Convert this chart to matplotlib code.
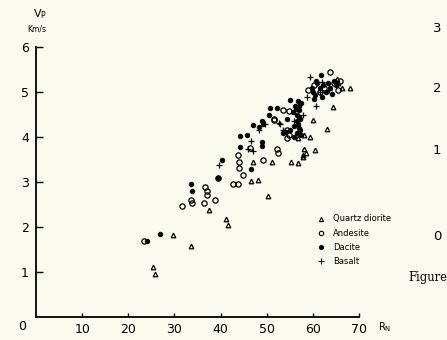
import matplotlib.pyplot as plt

# Schmidt hammer rebound (Rn) against P-wave velocity (km/s)
quartz_rn = [25.3, 25.9, 29.6, 33.5, 37.4, 41.1, 41.7, 50.3, 46.6, 48.2, 47.1, 51.1,
             55.3, 56.7, 57.8, 58.5, 58.1, 60.5, 56.7, 58.1, 59.5, 60.0, 63.1, 64.4,
             68.0, 65.5, 66.4, 57.9, 65.2]
quartz_vp = [1.12, 0.96, 1.83, 1.57, 2.38, 2.17, 2.04, 2.70, 3.02, 3.04, 3.45, 3.44,
             3.45, 3.43, 3.55, 3.64, 3.73, 3.71, 3.97, 4.04, 4.01, 4.38, 4.17, 4.67,
             5.08, 5.20, 5.10, 3.60, 5.30]

andesite_rn = [23.5, 31.7, 33.8, 33.7, 36.5, 38.7, 36.7, 37.0, 37.1, 39.5, 42.8, 43.7,
               44.8, 43.9, 43.9, 43.7, 49.1, 52.3, 52.5, 46.4, 51.6, 54.5, 54.8, 54.5,
               53.6, 54.9, 51.5, 58.9, 63.7, 62.5, 64.5, 65.5, 61.5, 60.2, 66.0]
andesite_vp = [1.70, 2.47, 2.53, 2.60, 2.53, 2.60, 2.88, 2.81, 2.71, 3.08, 2.95, 2.95,
               3.16, 3.32, 3.45, 3.60, 3.50, 3.73, 3.64, 3.75, 4.39, 3.97, 4.04, 4.16,
               4.60, 4.58, 4.38, 5.04, 5.45, 5.10, 5.20, 5.05, 5.00, 5.15, 5.25]

dacite_rn = [24.0, 26.9, 33.5, 33.9, 39.5, 40.3, 46.6, 44.3, 48.9, 48.9, 44.3, 45.7,
             47.1, 48.4, 49.3, 49.0, 50.6, 50.8, 52.2, 55.1, 54.4, 53.5, 54.2, 55.0,
             56.0, 56.5, 57.0, 56.8, 57.2, 56.5, 57.0, 56.2, 57.5, 56.0, 57.5, 56.8,
             55.7, 57.3, 60.0, 60.5, 61.7, 61.0, 61.5, 62.3, 62.8, 63.2, 63.8, 64.2,
             62.0, 60.8, 65.0, 64.5, 59.8, 60.2, 56.6, 57.1, 56.3, 57.0]
dacite_vp = [1.70, 1.84, 2.96, 2.81, 3.10, 3.49, 3.30, 3.78, 3.81, 3.88, 4.02, 4.04,
             4.27, 4.23, 4.28, 4.36, 4.49, 4.64, 4.64, 4.82, 4.41, 4.10, 4.12, 4.15,
             4.00, 4.10, 4.20, 4.30, 4.40, 4.50, 4.60, 4.70, 4.75, 4.25, 4.05, 4.80,
             4.55, 4.15, 5.00, 4.93, 5.38, 5.20, 5.10, 5.15, 5.00, 5.20, 5.10, 4.95,
             4.90, 5.25, 5.15, 5.25, 5.10, 4.85, 4.35, 4.45, 4.62, 4.68]

basalt_rn = [39.6, 45.9, 47.1, 46.6, 48.4, 49.6, 52.6, 52.9, 53.5, 59.4, 60.7, 58.8,
             61.5, 63.5, 62.0, 56.0, 57.8]
basalt_vp = [3.38, 3.73, 3.70, 3.91, 4.16, 4.28, 4.32, 4.30, 4.15, 5.34, 4.69, 4.90,
             5.00, 5.05, 5.22, 4.35, 4.50]

x_ticks = [10, 20, 30, 40, 50, 60, 70]
y_ticks = [1, 2, 3, 4, 5, 6]

bg = '#fafaee'
fig = plt.figure(figsize=(4.47, 3.40), dpi=100, facecolor=bg)
ax = fig.add_axes([0.0805, 0.0676, 0.7225, 0.7941], facecolor=bg)

ax.plot(quartz_rn, quartz_vp, linestyle='none', marker='^', ms=3.3,
        mfc='none', mec='black', mew=0.9)
ax.plot(andesite_rn, andesite_vp, linestyle='none', marker='o', ms=3.8,
        mfc='none', mec='black', mew=0.9)
ax.plot(dacite_rn, dacite_vp, linestyle='none', marker='o', ms=3.4,
        mfc='black', mec='black', mew=0.5)
ax.plot(basalt_rn, basalt_vp, linestyle='none', marker='+', ms=4.2,
        mec='black', mew=0.9)

ax.set_xlim(0, 70)
ax.set_ylim(0, 6)
for side in ['top', 'right']:
    ax.spines[side].set_visible(False)
for side in ['left', 'bottom']:
    ax.spines[side].set_linewidth(1.3)
ax.set_xticks(x_ticks)
ax.set_yticks(y_ticks)
ax.tick_params(axis='x', direction='in', length=3, width=1, labelsize=9, pad=4)
ax.tick_params(axis='y', direction='in', length=5, width=1, labelsize=9, pad=5)

# axis annotations
fig.text(22 / 447, 1 - 327 / 340, '0', fontsize=9, ha='center', va='center')
fig.text(40 / 447, 1 - 14 / 340, r'V$_{\mathrm{P}}$', fontsize=8, ha='center', va='center')
fig.text(37 / 447, 1 - 29 / 340, 'Km/s', fontsize=5.5, ha='center', va='center')
fig.text(385 / 447, 1 - 327 / 340, r'R$_{\mathrm{N}}$', fontsize=7, ha='center', va='center')

# legend drawn as plain markers and labels
legend_x, legend_y0, legend_dy = 321 / 447, 1 - 219 / 340, 14 / 340
legend_items = [('^', 'none', 3.0, 'Quartz diorite'), ('o', 'none', 3.2, 'Andesite'),
                ('o', 'black', 2.8, 'Dacite'), ('+', 'black', 4.0, 'Basalt')]
for i, (m, fc, size, label) in enumerate(legend_items):
    yy = legend_y0 - i * legend_dy
    fig.lines.append(plt.Line2D([legend_x], [yy], transform=fig.transFigure, marker=m,
                                ms=size, mfc=fc, mec='black', mew=0.8, linestyle='none'))
    fig.text(legend_x + 12 / 447, yy, label, fontsize=6, ha='left', va='center')

# neighbouring scale and caption on the right edge
for val, py in [('3', 28), ('2', 88), ('1', 150), ('0', 237)]:
    fig.text(437 / 447, 1 - py / 340, val, fontsize=9.5, ha='center', va='center')
fig.text(408 / 447, 1 - 278 / 340, 'Figure', fontsize=8.3, family='DejaVu Serif',
         ha='left', va='center')

fig.savefig('out.png', dpi=100, facecolor=bg)
